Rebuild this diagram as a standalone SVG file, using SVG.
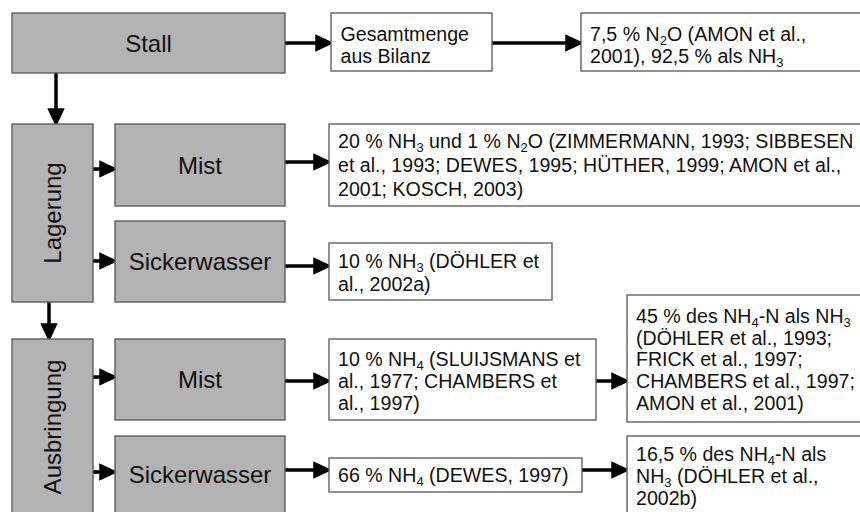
<svg xmlns="http://www.w3.org/2000/svg" width="860" height="512" viewBox="0 0 860 512">
<style>
.g{fill:#b3b3b3;stroke:#555;stroke-width:1.3}
.w{fill:#fff;stroke:#555;stroke-width:1.3}
.big{font-family:"Liberation Sans",Arial,sans-serif;font-size:24px;fill:#111;text-anchor:middle}
.t{font-family:"Liberation Sans",Arial,sans-serif;font-size:19.6px;fill:#111}
.s{font-size:13px}
.c{stroke:#000;stroke-width:3.5;fill:none;marker-end:url(#ah)}
</style>
<defs>
<marker id="ah" markerUnits="userSpaceOnUse" markerWidth="20" markerHeight="20" viewBox="0 -8 16 16" refX="3" refY="0" orient="auto">
<path d="M0,-7 L15,0 L0,7 Z" fill="#000"/>
</marker>
</defs>
<rect width="860" height="512" fill="#fff"/>
<g id="connectors">
<path class="c" d="M285,43 H319"/>
<path class="c" d="M492,43 H569"/>
<path class="c" d="M56,73 V112"/>
<path class="c" d="M93,169 H103"/>
<path class="c" d="M93,261 H103"/>
<path class="c" d="M285,162 H317"/>
<path class="c" d="M285,266 H317"/>
<path class="c" d="M49,302 V327"/>
<path class="c" d="M93,377 H103"/>
<path class="c" d="M93,472 H103"/>
<path class="c" d="M285,381 H317"/>
<path class="c" d="M285,470 H317"/>
<path class="c" d="M596,381 H615"/>
<path class="c" d="M582,470 H615"/>
</g>
<g id="stall"><rect class="g" x="12" y="13" width="273" height="60"/><text class="big" x="148.5" y="52">Stall</text></g>
<g id="gesamtmenge"><rect class="w" x="331" y="13" width="161" height="58"/><text class="t" x="340.5" y="40.5">Gesamtmenge</text><text class="t" x="340.5" y="63">aus Bilanz</text></g>
<g id="stall-emission"><rect class="w" x="581" y="13" width="290" height="58"/><text class="t" x="590" y="40.5">7,5 % N<tspan class="s" dy="4">2</tspan><tspan dy="-4">O (AMON et al.,</tspan></text><text class="t" x="590" y="63">2001), 92,5 % als NH<tspan class="s" dy="4">3</tspan></text></g>
<g id="lagerung"><rect class="g" x="12" y="124" width="81" height="178"/><text class="big" transform="translate(61,213) rotate(-90)">Lagerung</text></g>
<g id="lagerung-mist"><rect class="g" x="115" y="124" width="170" height="82"/><text class="big" x="200" y="174">Mist</text></g>
<g id="lagerung-sickerwasser"><rect class="g" x="115" y="221" width="170" height="81"/><text class="big" x="200" y="270">Sickerwasser</text></g>
<g id="lagerung-mist-emission"><rect class="w" x="329" y="124" width="542" height="82"/>
<text class="t" x="338" y="148">20 % NH<tspan class="s" dy="4">3</tspan><tspan dy="-4"> und 1 % N</tspan><tspan class="s" dy="4">2</tspan><tspan dy="-4">O (ZIMMERMANN, 1993; SIBBESEN</tspan></text>
<text class="t" x="338" y="172">et al., 1993; DEWES, 1995; HÜTHER, 1999; AMON et al.,</text>
<text class="t" x="338" y="196">2001; KOSCH, 2003)</text></g>
<g id="lagerung-sickerwasser-emission"><rect class="w" x="329" y="243" width="223" height="57"/>
<text class="t" x="338" y="268">10 % NH<tspan class="s" dy="4">3</tspan><tspan dy="-4"> (DÖHLER et</tspan></text>
<text class="t" x="338" y="291">al., 2002a)</text></g>
<g id="ausbringung"><rect class="g" x="12" y="339" width="81" height="176"/><text class="big" transform="translate(61,427) rotate(-90)">Ausbringung</text></g>
<g id="ausbringung-mist"><rect class="g" x="115" y="339" width="170" height="81"/><text class="big" x="200" y="388">Mist</text></g>
<g id="ausbringung-sickerwasser"><rect class="g" x="115" y="436" width="170" height="80"/><text class="big" x="200" y="483">Sickerwasser</text></g>
<g id="ausbringung-mist-nh4"><rect class="w" x="329" y="339" width="267" height="81"/>
<text class="t" x="338" y="366">10 % NH<tspan class="s" dy="4">4</tspan><tspan dy="-4"> (SLUIJSMANS et</tspan></text>
<text class="t" x="338" y="388">al., 1977; CHAMBERS et</text>
<text class="t" x="338" y="410">al., 1997)</text></g>
<g id="ausbringung-mist-emission"><rect class="w" x="627" y="295" width="244" height="127"/>
<text class="t" x="636" y="323">45 % des NH<tspan class="s" dy="4">4</tspan><tspan dy="-4">-N als NH</tspan><tspan class="s" dy="4">3</tspan></text>
<text class="t" x="636" y="344.7">(DÖHLER et al., 1993;</text>
<text class="t" x="636" y="366.4">FRICK et al., 1997;</text>
<text class="t" x="636" y="388">CHAMBERS et al., 1997;</text>
<text class="t" x="636" y="409.8">AMON et al., 2001)</text></g>
<g id="ausbringung-sickerwasser-nh4"><rect class="w" x="329" y="458" width="253" height="34"/>
<text class="t" x="338" y="482">66 % NH<tspan class="s" dy="4">4</tspan><tspan dy="-4"> (DEWES, 1997)</tspan></text></g>
<g id="ausbringung-sickerwasser-emission"><rect class="w" x="627" y="436" width="244" height="90"/>
<text class="t" x="636" y="460.5">16,5 % des NH<tspan class="s" dy="4">4</tspan><tspan dy="-4">-N als</tspan></text>
<text class="t" x="636" y="482.5">NH<tspan class="s" dy="4">3</tspan><tspan dy="-4"> (DÖHLER et al.,</tspan></text>
<text class="t" x="636" y="504.5">2002b)</text></g>
</svg>
